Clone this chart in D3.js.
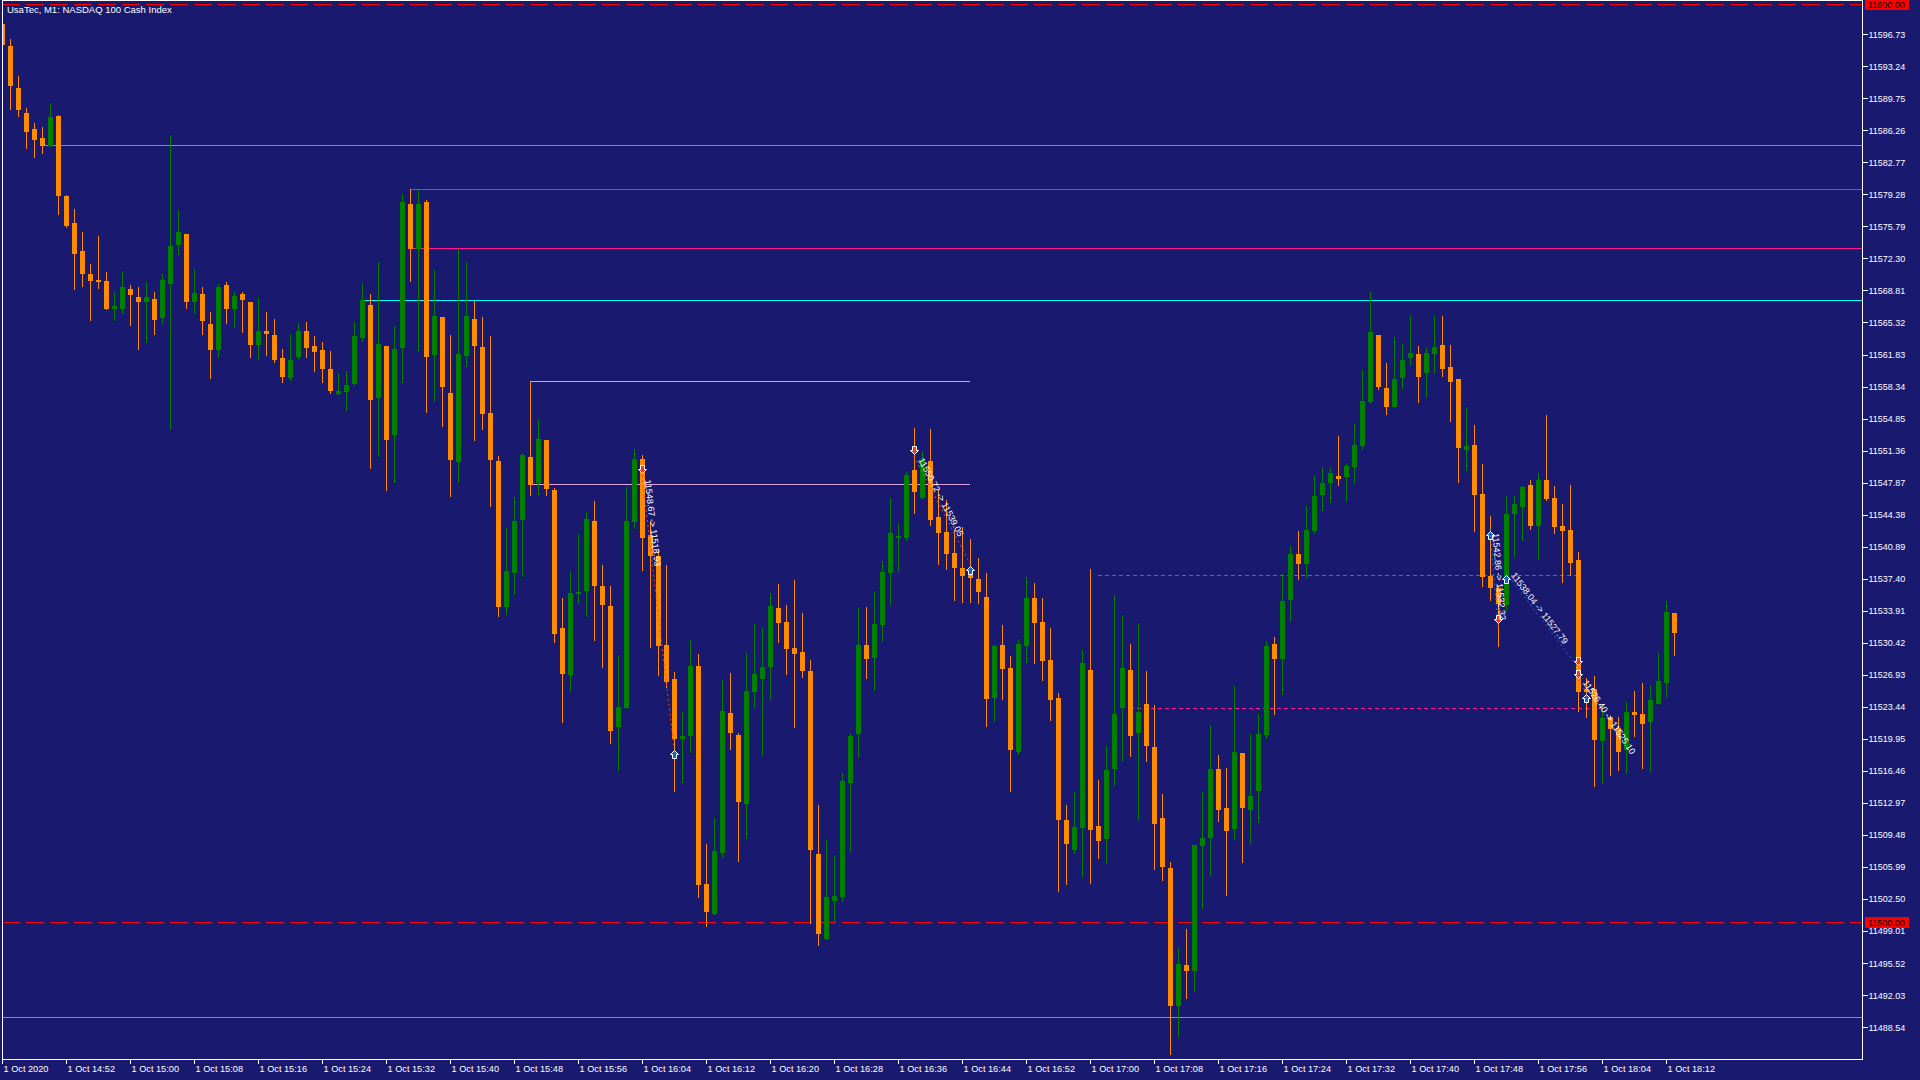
<!DOCTYPE html>
<html>
<head>
<meta charset="utf-8">
<script src="https://cdn.jsdelivr.net/npm/d3@7"></script>
<style>
html, body { margin: 0; padding: 0; background: #191970; overflow: hidden; }
svg { display: block; }
text { font-family: "Liberation Sans", Arial, sans-serif; }
</style>
</head>
<body>
<svg id="chart" width="1920" height="1080"></svg>
<script>
// UsaTec M1 bars, 1 Oct 2020 14:44 .. 18:13 (one value per minute)
var opens = [11597.84,11595.45,11590.87,11588.14,11586.40,11585.42,11584.55,11587.82,11579.10,11576.15,
11573.10,11570.59,11569.94,11569.83,11566.78,11566.78,11568.96,11568.09,11567.54,11567.87,
11565.80,11569.50,11573.76,11574.95,11567.54,11568.41,11565.14,11562.31,11569.40,11566.78,
11568.41,11567.54,11562.86,11564.38,11563.95,11561.44,11559.26,11561.55,11564.38,11562.75,
11562.31,11560.24,11557.51,11557.73,11558.60,11563.62,11567.22,11557.08,11562.75,11553.05,
11562.53,11578.22,11573.32,11578.44,11561.77,11565.91,11557.62,11550.10,11561.66,11565.69,
11562.64,11555.44,11550.21,11534.30,11538.00,11543.78,11550.65,11547.81,11552.50,11547.05,
11532.01,11526.89,11535.71,11536.04,11543.67,11536.59,11534.41,11521.22,11523.31,11543.56,
11550.43,11542.15,11539.86,11530.16,11526.45,11519.91,11520.24,11527.87,11504.10,11500.83,
11507.48,11522.74,11520.35,11512.82,11525.03,11526.45,11527.76,11534.19,11532.66,11529.83,
11529.39,11527.32,11507.37,11498.11,11502.25,11502.69,11515.11,11520.45,11530.16,11528.74,
11532.34,11538.00,11541.82,11541.82,11549.23,11546.18,11550.21,11544.11,11542.47,11540.18,
11538.55,11537.89,11537.35,11535.39,11524.38,11530.16,11527.65,11518.49,11530.05,11535.28,
11532.66,11528.52,11524.38,11511.08,11507.81,11510.21,11527.43,11510.43,11509.01,11516.64,
11523.31,11527.43,11520.56,11523.72,11519.04,11511.30,11505.85,11490.84,11495.27,11494.62,
11508.25,11509.12,11516.64,11512.39,11510.10,11518.38,11512.17,11514.24,11520.35,11530.26,
11528.63,11535.06,11540.07,11538.98,11542.58,11546.51,11547.81,11548.58,11548.47,11549.56,
11551.85,11556.64,11563.95,11558.17,11556.10,11559.26,11561.44,11561.87,11559.80,11561.87,
11562.86,11560.46,11559.15,11551.41,11551.95,11546.61,11537.68,11536.37,11534.51,11544.43,
11545.20,11547.60,11543.13,11548.14,11546.18,11543.13,11542.69,11539.42,11525.36,11525.36,
11519.69,11522.31,11521.11,11518.71,11522.85,11522.63,11521.76,11523.72,11526.01,11533.64];

var highs = [11598.28,11596.21,11592.18,11588.69,11587.05,11586.62,11589.23,11587.93,11579.20,11577.68,
11575.17,11571.68,11574.74,11570.81,11568.63,11570.92,11569.40,11569.18,11569.72,11568.63,
11570.59,11585.74,11577.57,11574.95,11571.14,11569.18,11566.45,11569.50,11569.72,11568.63,
11568.63,11567.54,11567.98,11566.45,11565.69,11562.42,11564.05,11565.25,11565.36,11563.84,
11563.18,11562.20,11559.80,11560.02,11565.36,11569.61,11568.41,11571.90,11562.75,11564.93,
11579.31,11579.86,11579.75,11578.66,11571.03,11565.91,11563.95,11573.32,11571.90,11567.65,
11565.91,11563.84,11550.76,11542.91,11546.29,11551.08,11558.93,11554.68,11552.50,11547.27,
11535.28,11538.22,11542.25,11544.65,11545.85,11538.87,11536.59,11529.06,11547.38,11551.52,
11550.87,11543.67,11540.62,11538.87,11527.21,11522.85,11530.70,11529.17,11508.46,11511.30,
11526.34,11527.10,11520.56,11529.28,11532.44,11532.01,11535.82,11536.80,11534.52,11537.24,
11533.64,11528.52,11512.71,11508.90,11507.26,11516.20,11520.56,11534.30,11534.30,11536.04,
11539.31,11546.18,11543.45,11549.12,11553.81,11551.30,11553.70,11547.05,11545.96,11542.69,
11543.02,11541.71,11539.64,11538.00,11530.16,11532.34,11528.96,11530.81,11537.57,11536.91,
11535.28,11532.01,11524.92,11512.71,11514.13,11529.61,11538.44,11515.44,11519.15,11535.60,
11533.43,11530.26,11532.55,11527.32,11523.62,11513.91,11506.50,11497.13,11499.20,11508.36,
11514.13,11521.44,11518.17,11516.75,11525.69,11518.38,11520.45,11522.63,11530.59,11531.03,
11537.89,11540.95,11542.58,11545.31,11548.58,11549.56,11549.45,11552.94,11549.99,11554.25,
11560.13,11568.63,11563.95,11560.89,11563.73,11562.97,11566.02,11562.75,11562.53,11566.02,
11566.02,11562.86,11559.15,11556.10,11554.14,11549.88,11544.22,11536.59,11546.40,11546.40,
11547.49,11548.14,11548.90,11555.22,11547.49,11545.53,11547.60,11540.29,11526.56,11526.78,
11523.62,11522.42,11522.31,11523.94,11525.14,11526.01,11525.80,11529.28,11534.95,11533.64];

var lows = [11595.01,11588.58,11587.82,11584.33,11583.35,11583.78,11584.55,11577.13,11575.72,11568.96,
11569.29,11565.58,11569.07,11566.78,11565.58,11566.34,11565.04,11562.42,11563.18,11564.05,
11565.25,11553.70,11572.77,11566.89,11566.34,11564.05,11559.26,11561.55,11565.25,11564.82,
11564.27,11561.55,11561.33,11561.77,11560.99,11558.82,11559.04,11561.44,11561.55,11560.02,
11558.82,11557.62,11557.51,11555.77,11558.50,11563.29,11549.45,11550.76,11547.05,11547.92,
11558.82,11569.83,11562.31,11555.55,11556.75,11554.03,11546.40,11547.92,11560.57,11552.50,
11553.70,11545.31,11533.32,11533.53,11535.71,11537.68,11546.51,11546.61,11546.51,11530.48,
11521.76,11525.14,11534.73,11533.32,11530.70,11527.76,11519.47,11516.53,11523.31,11542.91,
11538.33,11529.94,11526.89,11525.58,11514.24,11515.22,11518.49,11502.69,11499.53,11500.83,
11507.05,11518.82,11506.61,11509.12,11523.42,11518.17,11524.27,11530.48,11527.00,11521.22,
11526.67,11499.85,11497.46,11498.11,11500.07,11502.25,11507.70,11517.95,11526.56,11525.25,
11530.59,11534.62,11538.22,11541.60,11544.54,11546.18,11543.24,11538.98,11538.44,11535.06,
11534.84,11534.84,11534.73,11521.33,11521.87,11524.27,11514.24,11518.27,11528.30,11528.19,
11526.34,11521.98,11503.34,11504.10,11507.48,11505.02,11504.21,11506.94,11506.39,11514.89,
11517.51,11518.06,11511.19,11517.51,11505.74,11504.54,11485.61,11487.57,11491.68,11492.44,
11501.49,11505.08,11510.97,11502.90,11509.01,11506.50,11508.57,11510.86,11520.02,11522.63,
11524.81,11532.77,11537.35,11537.57,11542.36,11544.87,11545.74,11547.60,11545.85,11547.81,
11551.52,11556.53,11558.06,11555.33,11556.10,11558.17,11560.68,11556.64,11557.19,11559.80,
11559.48,11554.57,11547.92,11549.23,11542.58,11536.59,11535.06,11530.05,11533.97,11539.86,
11541.60,11542.80,11539.53,11545.96,11542.36,11537.02,11537.79,11522.96,11522.31,11514.78,
11515.11,11515.99,11516.53,11516.20,11520.24,11516.75,11516.42,11523.72,11524.49,11529.06];

var closes = [11595.56,11591.09,11588.47,11586.07,11585.20,11584.58,11587.71,11579.10,11575.83,11572.77,
11570.59,11569.83,11569.72,11566.78,11567.11,11569.18,11568.31,11567.54,11568.09,11565.58,
11569.94,11573.65,11575.17,11567.54,11568.52,11565.47,11562.31,11569.18,11566.78,11568.20,
11567.76,11562.86,11564.38,11564.05,11561.22,11559.37,11561.22,11564.38,11562.53,11562.09,
11560.24,11557.84,11557.84,11558.50,11563.84,11567.76,11556.86,11562.97,11552.50,11562.42,
11578.44,11573.32,11578.22,11561.55,11566.02,11558.28,11550.32,11561.87,11566.02,11562.75,
11555.33,11550.32,11534.30,11538.22,11543.67,11550.87,11547.60,11552.61,11547.16,11531.35,
11527.00,11535.82,11535.93,11543.89,11536.59,11534.52,11520.78,11523.42,11543.67,11550.43,
11541.82,11539.86,11530.05,11526.12,11519.91,11520.24,11527.87,11503.99,11501.05,11507.70,
11522.96,11520.56,11513.04,11525.14,11527.00,11527.76,11534.41,11532.55,11529.72,11529.17,
11527.32,11507.81,11498.65,11502.69,11502.80,11515.33,11520.24,11530.16,11528.63,11532.44,
11538.11,11542.36,11542.04,11548.69,11546.83,11550.43,11543.78,11542.36,11540.07,11538.55,
11537.68,11537.46,11535.93,11524.27,11530.05,11527.54,11518.71,11530.26,11535.28,11532.55,
11528.41,11524.16,11511.08,11508.46,11510.32,11528.19,11509.99,11508.79,11516.53,11522.63,
11527.65,11520.24,11522.85,11519.15,11510.64,11505.96,11490.84,11495.38,11494.62,11508.36,
11509.12,11516.64,11512.17,11509.89,11518.49,11512.39,11513.70,11520.45,11530.05,11528.63,
11534.95,11540.07,11538.98,11542.69,11546.40,11547.81,11548.90,11548.25,11549.67,11551.95,
11556.75,11564.27,11558.28,11556.10,11559.15,11561.22,11561.98,11559.37,11561.98,11562.64,
11560.24,11558.82,11551.63,11551.85,11546.51,11537.57,11536.37,11534.62,11544.43,11545.52,
11547.38,11543.13,11548.14,11546.07,11543.02,11542.58,11539.09,11525.03,11525.03,11519.80,
11522.20,11521.00,11518.49,11522.85,11522.53,11521.54,11524.16,11526.23,11533.75,11531.46];

// time axis: one label every 8 bars
var timeLabels = ["1 Oct 2020","1 Oct 14:52","1 Oct 15:00","1 Oct 15:08","1 Oct 15:16","1 Oct 15:24",
  "1 Oct 15:32","1 Oct 15:40","1 Oct 15:48","1 Oct 15:56","1 Oct 16:04","1 Oct 16:12","1 Oct 16:20",
  "1 Oct 16:28","1 Oct 16:36","1 Oct 16:44","1 Oct 16:52","1 Oct 17:00","1 Oct 17:08","1 Oct 17:16",
  "1 Oct 17:24","1 Oct 17:32","1 Oct 17:40","1 Oct 17:48","1 Oct 17:56","1 Oct 18:04","1 Oct 18:12"];
var labelStep = 8;

var priceTicks = [11596.73,11593.24,11589.75,11586.26,11582.77,11579.28,11575.79,11572.30,11568.81,
  11565.32,11561.83,11558.34,11554.85,11551.36,11547.87,11544.38,11540.89,11537.40,11533.91,11530.42,
  11526.93,11523.44,11519.95,11516.46,11512.97,11509.48,11505.99,11502.50,11499.01,11495.52,11492.03,11488.54];

// drawn objects
var alertLevels = [11600.00, 11500.00];
var greenLevels = [11584.63, 11489.62];
var greenFrom = [5, 0];
var zoneLevels = [11579.83, 11573.40];
var zoneFrom = 51;
var cyanLevel = 11567.77;
var cyanFrom = 45;
var boxLevels = [11558.95, 11547.72];
var boxFrom = 66, boxTo = 121;
var dashLevels = [11537.76, 11523.37];
var dashFrom = [137, 141];
var dashTo = [197, 200];

// trade history
var tradeOpenIdx = [80, 114, 186, 188, 197];
var tradeOpenPrice = [11548.67, 11550.72, 11542.86, 11538.04, 11526.40];
var tradeCloseIdx = [84, 121, 187, 197, 198];
var tradeClosePrice = [11518.93, 11539.05, 11532.32, 11527.79, 11525.10];
var tradeSide = ["sell", "sell", "buy", "buy", "sell"];

var bullColor = "#008000", bearColor = "#ff8c00";

var svg = d3.select("#chart");
var left = 2, right = 1862, bottom = 1059;

var xScale = d3.scaleLinear().domain([0, 209]).range([2, 1674]);
var yScale = d3.scaleLinear().domain([11500, 11600]).range([922, 4.2]);

var bars = opens.map(function (o, i) {
    return { i: i, o: o, h: highs[i], l: lows[i], c: closes[i] };
});

svg.append("rect").attr("width", 1920).attr("height", 1080).attr("fill", "#191970");

svg.append("defs").append("clipPath").attr("id", "plot")
    .append("rect").attr("x", left + 1).attr("y", 1).attr("width", right - left - 1).attr("height", bottom - 1);

var plot = svg.append("g").attr("clip-path", "url(#plot)").attr("shape-rendering", "crispEdges");

function py(p) { return Math.round(yScale(p)) + 0.5; }

// alert lines (red dashed)
plot.selectAll(".alert").data(alertLevels).enter().append("line")
    .attr("x1", left).attr("x2", right)
    .attr("y1", py).attr("y2", py)
    .attr("stroke", "#ff0000").attr("stroke-dasharray", "18,6");

// levels
plot.selectAll(".green").data(greenLevels).enter().append("line")
    .attr("x1", function (d, i) { return xScale(greenFrom[i]); }).attr("x2", right)
    .attr("y1", py).attr("y2", py)
    .attr("stroke", "#32cd32");

plot.selectAll(".zone").data(zoneLevels).enter().append("line")
    .attr("x1", xScale(zoneFrom)).attr("x2", right)
    .attr("y1", py).attr("y2", py)
    .attr("stroke", "#ff1493");

plot.append("line")
    .attr("x1", xScale(cyanFrom)).attr("x2", right)
    .attr("y1", py(cyanLevel)).attr("y2", py(cyanLevel))
    .attr("stroke", "#00ffff");

plot.selectAll(".box").data(boxLevels).enter().append("line")
    .attr("x1", xScale(boxFrom)).attr("x2", xScale(boxTo))
    .attr("y1", py).attr("y2", py)
    .attr("stroke", "#dda0dd");

plot.selectAll(".dash").data(dashLevels).enter().append("line")
    .attr("x1", function (d, i) { return xScale(dashFrom[i]); })
    .attr("x2", function (d, i) { return xScale(dashTo[i]); })
    .attr("y1", py).attr("y2", py)
    .attr("stroke", "#ff1493").attr("stroke-dasharray", "4,3");

// candles
var candle = plot.selectAll(".bar").data(bars).enter().append("g")
    .attr("fill", function (d) { return d.c >= d.o ? bullColor : bearColor; });

candle.append("rect")
    .attr("x", function (d) { return Math.round(xScale(d.i)); })
    .attr("width", 1)
    .attr("y", function (d) { return Math.round(yScale(d.h)); })
    .attr("height", function (d) { return Math.round(yScale(d.l)) - Math.round(yScale(d.h)) + 1; });

candle.append("rect")
    .attr("x", function (d) { return Math.round(xScale(d.i)) - 2; })
    .attr("width", 5)
    .attr("y", function (d) { return Math.round(yScale(Math.max(d.o, d.c))); })
    .attr("height", function (d) {
        return Math.max(1, Math.round(yScale(Math.min(d.o, d.c))) - Math.round(yScale(Math.max(d.o, d.c))));
    });

// trades
var trades = tradeOpenIdx.map(function (oi, i) {
    return {
        x1: xScale(oi), y1: yScale(tradeOpenPrice[i]),
        x2: xScale(tradeCloseIdx[i]), y2: yScale(tradeClosePrice[i]),
        side: tradeSide[i],
        label: tradeOpenPrice[i].toFixed(2) + " -> " + tradeClosePrice[i].toFixed(2)
    };
});

var tradeLayer = svg.append("g").attr("clip-path", "url(#plot)");

tradeLayer.selectAll(".tline").data(trades).enter().append("line")
    .attr("x1", function (d) { return d.x1; }).attr("y1", function (d) { return d.y1; })
    .attr("x2", function (d) { return d.x2; }).attr("y2", function (d) { return d.y2; })
    .attr("stroke", function (d) { return d.side === "sell" ? "#ff4020" : "#1e6fd0"; })
    .attr("stroke-dasharray", "2,3");

function downArrow(cx, cy) {
    return "M" + (cx - 2) + "," + (cy - 4) + "H" + (cx + 2) + "V" + cy + "H" + (cx + 4) +
        "L" + cx + "," + (cy + 4) + "L" + (cx - 4) + "," + cy + "H" + (cx - 2) + "Z";
}
function upArrow(cx, cy) {
    return "M" + (cx - 2) + "," + (cy + 4) + "H" + (cx + 2) + "V" + cy + "H" + (cx + 4) +
        "L" + cx + "," + (cy - 4) + "L" + (cx - 4) + "," + cy + "H" + (cx - 2) + "Z";
}
function drawArrow(x, y, side) {
    var cx = Math.round(x) + 0.5;
    if (side === "sell") {
        tradeLayer.append("path").attr("d", downArrow(cx, Math.round(y) - 5.5))
            .attr("fill", "#e8401c").attr("stroke", "#ffffff").attr("stroke-width", 1);
    } else {
        tradeLayer.append("path").attr("d", upArrow(cx, Math.round(y) + 6.5))
            .attr("fill", "#1a66b8").attr("stroke", "#ffffff").attr("stroke-width", 1);
    }
}
trades.forEach(function (t) {
    drawArrow(t.x1, t.y1, t.side);
    drawArrow(t.x2, t.y2, t.side === "sell" ? "buy" : "sell");
});

tradeLayer.selectAll(".tlabel").data(trades).enter().append("text")
    .attr("transform", function (d) {
        var a = Math.atan2(d.y2 - d.y1, d.x2 - d.x1) * 180 / Math.PI;
        return "translate(" + d.x1 + "," + d.y1 + ") rotate(" + a + ")";
    })
    .attr("x", 5).attr("y", -2)
    .attr("fill", "#ffffff").attr("font-size", "9px")
    .text(function (d) { return d.label; });

// frame
svg.append("path")
    .attr("d", "M" + (left + 0.5) + ",0.5H" + (right + 0.5) + "V" + (bottom + 0.5) + "H" + (left + 0.5) + "Z")
    .attr("fill", "none").attr("stroke", "#ffffff").attr("shape-rendering", "crispEdges");

// price axis
var yAxis = d3.axisRight(yScale).tickValues(priceTicks).tickSize(5).tickPadding(1)
    .tickFormat(d3.format(".2f"));
var ya = svg.append("g").attr("transform", "translate(" + (right + 0.5) + ",0)").call(yAxis);
ya.select(".domain").remove();
ya.selectAll("line").attr("stroke", "#ffffff").attr("shape-rendering", "crispEdges");
ya.selectAll("text").attr("fill", "#ffffff").attr("font-size", "9px")
    .attr("font-family", "Liberation Sans, Arial, sans-serif");

// red price tags for alert levels
var tags = svg.selectAll(".tag").data(alertLevels).enter().append("g");
tags.append("rect")
    .attr("x", right + 3).attr("width", 44)
    .attr("y", function (d) { return Math.round(yScale(d)) - 5; }).attr("height", 11)
    .attr("fill", "#ff0000");
tags.append("text")
    .attr("x", right + 6).attr("y", function (d) { return Math.round(yScale(d)) + 3.5; })
    .attr("fill", "#000000").attr("font-size", "9px")
    .text(function (d) { return d.toFixed(2); });

// time axis
var xAxis = d3.axisBottom(xScale)
    .tickValues(timeLabels.map(function (d, i) { return i * labelStep; }))
    .tickSize(4).tickFormat(function (d) { return timeLabels[d / labelStep]; });
var xa = svg.append("g").attr("transform", "translate(0," + (bottom + 0.5) + ")").call(xAxis);
xa.select(".domain").remove();
xa.selectAll(".tick").attr("transform", function (d) { return "translate(" + (Math.round(xScale(d)) + 0.5) + ",0)"; });
xa.selectAll("line").attr("stroke", "#ffffff").attr("shape-rendering", "crispEdges");
xa.selectAll("text").attr("fill", "#ffffff").attr("font-size", "9.2px")
    .attr("font-family", "Liberation Sans, Arial, sans-serif")
    .attr("text-anchor", "start").attr("x", 1).attr("y", 6);

// title
svg.append("text").attr("x", 7).attr("y", 13)
    .attr("fill", "#ffffff").attr("font-size", "9.5px")
    .text("UsaTec, M1:  NASDAQ 100 Cash Index");
</script>
</body>
</html>
